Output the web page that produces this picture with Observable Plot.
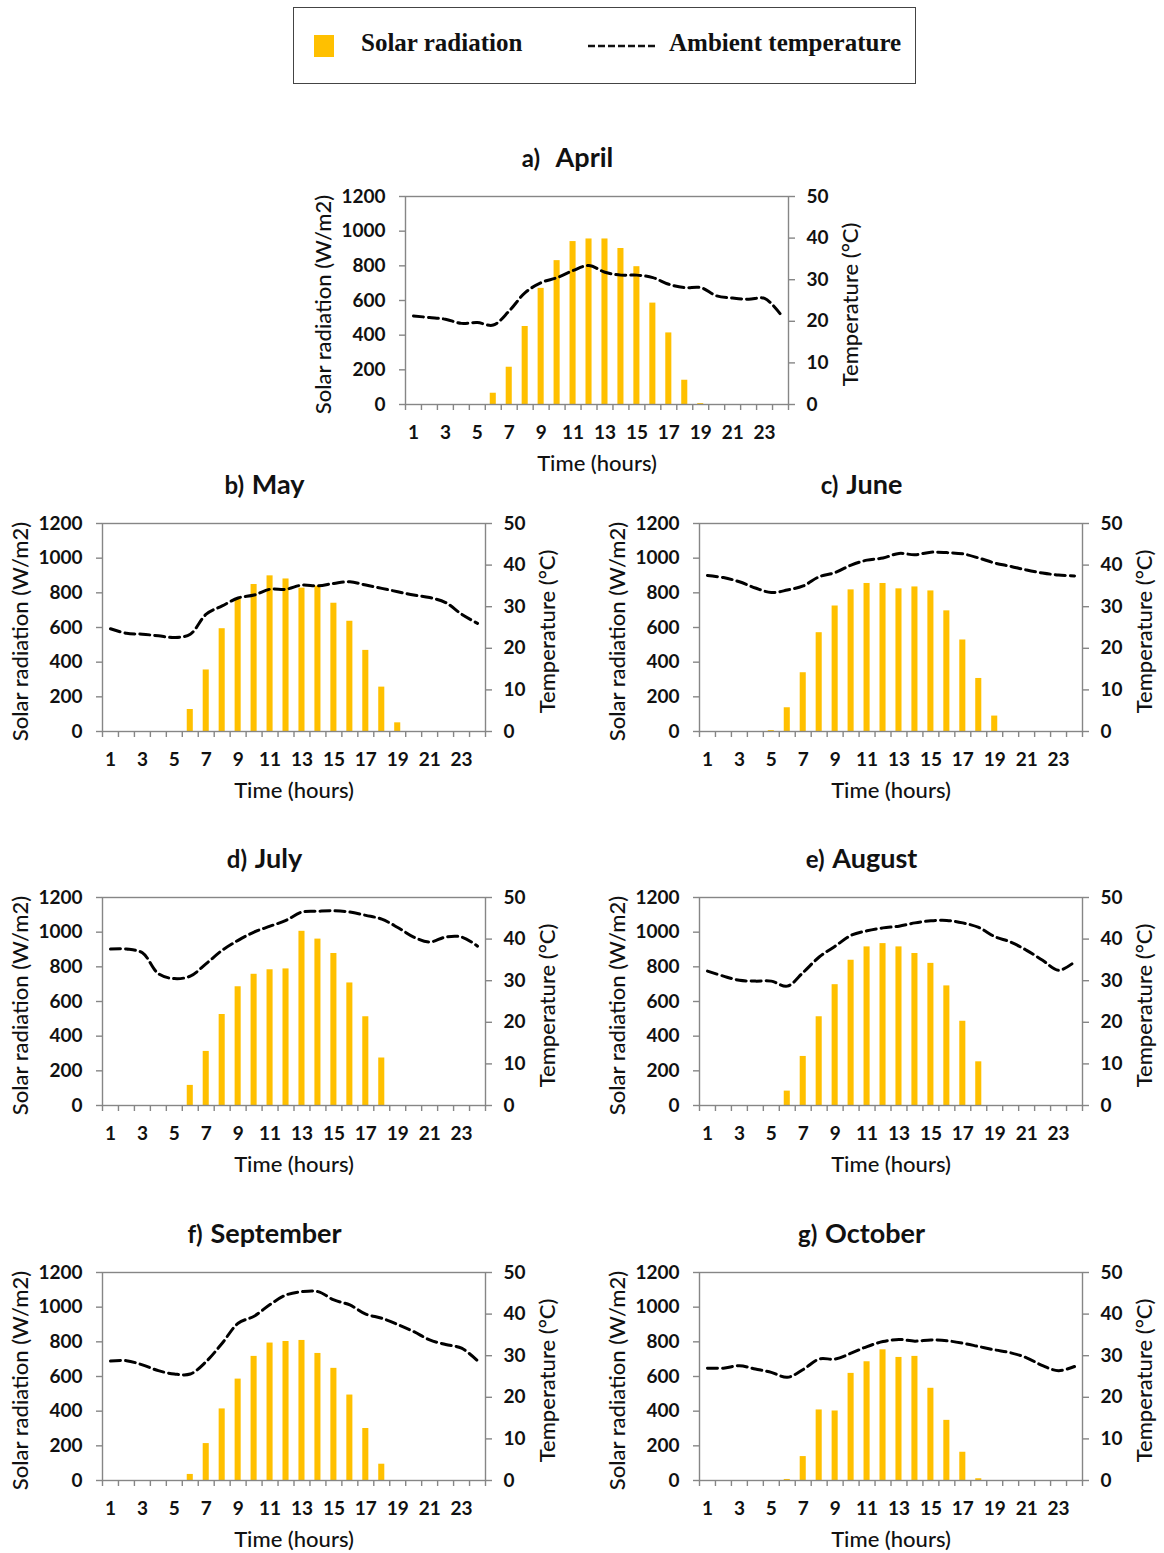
<!DOCTYPE html>
<html>
<head>
<meta charset="utf-8">
<script src="https://cdn.jsdelivr.net/npm/d3@7"></script>
<script src="https://cdn.jsdelivr.net/npm/@observablehq/plot@0.6"></script>
<style>
  body { margin: 0; background: #fff; }
  #root { position: relative; width: 1164px; height: 1553px; overflow: hidden; background: #fff; font-family: Lato, "Open Sans", sans-serif; }
  .panel { position: absolute; }
  .panel svg { background: transparent !important; }
  .title { position: absolute; font-family: Lato, sans-serif; font-weight: 700; color: #111; white-space: nowrap; transform: translate(-50%, -50%); }
  .title .lt { font-size: 24px; }
  .title .mn { font-size: 27px; }
  #legend { position: absolute; left: 293px; top: 7px; width: 621px; height: 75px; border: 1.5px solid #444; background: #fff; font-family: "Liberation Serif", "Times New Roman", serif; font-weight: 700; font-size: 25px; color: #111; }
  #legend .sq { position: absolute; left: 20px; top: 27px; width: 20px; height: 22px; background: #FFC000; }
  #legend .t1 { position: absolute; left: 67px; top: 21px; white-space: nowrap; }
  #legend .ln { position: absolute; left: 294px; top: 30px; }
  #legend .t2 { position: absolute; left: 375px; top: 21px; white-space: nowrap; }
</style>
</head>
<body>
<div id="root">
  <div id="legend">
    <div class="sq"></div>
    <div class="t1">Solar radiation</div>
    <svg class="ln" width="72" height="16"><line x1="0" y1="8" x2="70" y2="8" stroke="#111" stroke-width="2.5" stroke-dasharray="7,3"></line></svg>
    <div class="t2">Ambient temperature</div>
  </div>
</div>
<script>
// ---- Data ----
const hours = [1,2,3,4,5,6,7,8,9,10,11,12,13,14,15,16,17,18,19,20,21,22,23,24];
const hourLabels = [1,3,5,7,9,11,13,15,17,19,21,23];
const radTicks = [0,200,400,600,800,1000,1200];
const tempTicks = [0,10,20,30,40,50];

const months = ["April","May","June","July","August","September","October"];
const letters = ["a)","b)","c)","d)","e)","f)","g)"];

const radApril = [0,0,0,0,0,65,215,450,670,830,940,955,955,900,795,585,413,140,5,0,0,0,0,0];
const tempApril = [21.3,20.9,20.5,19.5,19.7,19.1,22.5,26.9,29.3,30.5,32.2,33.4,31.8,31.1,31.1,30.5,28.9,28.1,28.1,26.1,25.6,25.3,25.5,21.7];

const radMay = [0,0,0,0,0,127,355,593,763,848,898,880,827,838,740,636,468,256,50,0,0,0,0,0];
const tempMay = [24.7,23.6,23.4,23.0,22.6,23.4,28.2,30.2,32.1,32.8,34.2,34.2,35.2,35.0,35.6,36.0,35.2,34.4,33.6,32.8,32.2,31.0,28.2,26.0];

const radJune = [0,0,0,0,5,137,339,570,724,817,854,854,823,834,811,696,528,306,89,0,0,0,0,0];
const tempJune = [37.5,37.0,36.0,34.5,33.4,34.0,35.0,37.2,38.2,40.0,41.2,41.7,42.8,42.5,43.1,43.0,42.7,41.7,40.5,39.7,38.8,38.1,37.6,37.4];

const radJuly = [0,0,0,0,0,116,312,525,685,757,783,788,1005,960,877,707,512,274,0,0,0,0,0,0];
const tempJuly = [37.6,37.6,36.7,31.7,30.5,31.1,34.1,37.3,39.7,41.7,43.1,44.5,46.5,46.7,46.8,46.5,45.7,44.8,42.8,40.5,39.3,40.5,40.5,38.3];

const radAugust = [0,0,0,0,0,83,283,512,697,838,915,934,915,877,820,690,486,252,0,0,0,0,0,0];
const tempAugust = [32.3,31.1,30.1,29.9,29.9,28.7,32.0,35.7,38.3,40.9,42.0,42.7,43.1,43.9,44.4,44.5,43.9,42.8,40.6,39.3,37.3,34.9,32.5,34.5];

const radSeptember = [0,0,0,0,0,35,213,413,585,716,793,802,808,733,647,493,300,94,0,0,0,0,0,0];
const tempSeptember = [28.7,28.8,27.8,26.4,25.6,25.6,28.6,33.0,37.8,39.5,42.3,44.6,45.4,45.4,43.4,42.2,40.0,39.0,37.5,35.8,33.8,32.7,31.8,28.8];

const radOctober = [0,0,0,0,0,6,138,407,401,618,685,754,710,716,532,347,163,10,0,0,0,0,0,0];
const tempOctober = [27.0,27.0,27.6,26.8,26.0,24.8,26.7,29.2,29.2,30.6,32.2,33.4,33.9,33.5,33.8,33.6,33.0,32.2,31.4,30.7,29.5,27.6,26.4,27.4];

const radiation = [radApril, radMay, radJune, radJuly, radAugust, radSeptember, radOctober];
const temperature = [tempApril, tempMay, tempJune, tempJuly, tempAugust, tempSeptember, tempOctober];

// ---- Layout (plot-area top-left corners) ----
const plotW = 383, plotH = 208;
const positions = [[405,196],[102,523],[699,523],[102,897],[699,897],[102,1272],[699,1272]];

const mL = 100, mR = 80, mT = 12, mB = 80;
const k = 1200 / 50;
const boundaries = hours.map(h => h - 0.5).concat([24.5]);
const axisGray = "#868686";

const root = document.getElementById("root");

months.forEach((m, i) => {
  const data = hours.map((h, j) => ({h, r: radiation[i][j], t: temperature[i][j]}));
  const [px, py] = positions[i];
  const chart = Plot.plot({
    width: plotW + mL + mR,
    height: plotH + mT + mB,
    marginLeft: mL, marginRight: mR, marginTop: mT, marginBottom: mB,
    style: {fontFamily: "Lato, sans-serif", fontSize: "19px", fontWeight: 700, color: "#111", background: "transparent"},
    x: {type: "linear", domain: [0.5, 24.5]},
    y: {domain: [0, 1200]},
    marks: [
      Plot.rectY(data.filter(d => d.r > 0), {x1: d => d.h - 0.19, x2: d => d.h + 0.19, y1: 0, y2: "r", fill: "#FFC000"}),
      Plot.line(data, {x: "h", y: d => d.t * k, stroke: "#000", strokeWidth: 3, strokeDasharray: "10,5", curve: "catmull-rom"}),
      Plot.frame({stroke: axisGray, strokeWidth: 1.4}),
      Plot.axisY(radTicks, {anchor: "left", tickSize: 6, tickPadding: 14, tickFormat: d => String(d), stroke: axisGray, strokeWidth: 1.4, fill: "#111", label: null}),
      Plot.axisY(tempTicks.map(t => t * k), {anchor: "right", tickSize: 6, tickPadding: 12, tickFormat: d => String(Math.round(d / k)), stroke: axisGray, strokeWidth: 1.4, fill: "#111", label: null}),
      Plot.axisX(boundaries, {anchor: "bottom", tickSize: 6, tickFormat: () => "", stroke: axisGray, strokeWidth: 1.4, label: null}),
      Plot.axisX(hourLabels, {anchor: "bottom", tickSize: 0, tickPadding: 21, tickFormat: d => String(d), fill: "#111", label: null}),
      Plot.text(["Solar radiation (W/m2)"], {frameAnchor: "left", dx: -82, dy: 4, rotate: -90, textAnchor: "middle", lineAnchor: "middle", fontSize: 22, fontWeight: 500, fill: "#111"}),
      Plot.text(["Temperature (°C)"], {frameAnchor: "right", dx: 62, dy: 4, rotate: -90, textAnchor: "middle", lineAnchor: "middle", fontSize: 22, fontWeight: 500, fill: "#111"}),
      Plot.text(["Time (hours)"], {frameAnchor: "bottom", dy: 59, textAnchor: "middle", lineAnchor: "middle", fontSize: 22, fontWeight: 500, fill: "#111"})
    ]
  });
  const wrap = document.createElement("div");
  wrap.className = "panel";
  wrap.style.left = (px - mL) + "px";
  wrap.style.top = (py - mT) + "px";
  wrap.appendChild(chart);
  root.appendChild(wrap);

  const title = document.createElement("div");
  title.className = "title";
  title.style.left = (px + plotW / 2 - 29) + "px";
  title.style.top = (py - 40) + "px";
  title.innerHTML = `<span class="lt">${letters[i]}</span>${i === 0 ? "&nbsp;&nbsp;&nbsp;&nbsp;" : "&nbsp;&nbsp;"}<span class="mn">${m}</span>`;
  root.appendChild(title);
});
</script>
</body>
</html>
